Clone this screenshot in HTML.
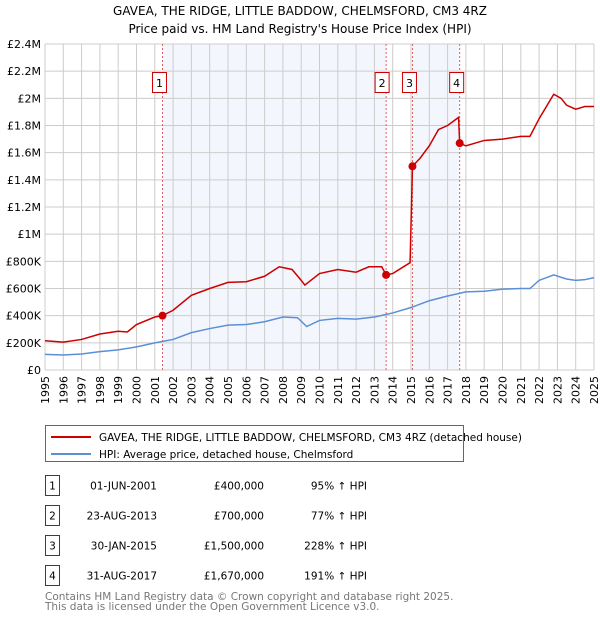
<!DOCTYPE html>
<html><head><meta charset="utf-8">
<style>
body{margin:0;background:#fff;font-family:"Liberation Sans","DejaVu Sans",sans-serif;}
#wrap{position:relative;width:600px;height:620px;overflow:hidden;}
svg text{font-family:"DejaVu Sans","Liberation Sans",sans-serif;}
</style></head>
<body>
<div id="wrap">
<svg id="chart" width="600" height="620">
<text x="300" y="15" text-anchor="middle" font-size="12" fill="#000">GAVEA, THE RIDGE, LITTLE BADDOW, CHELMSFORD, CM3 4RZ</text>
<text x="300" y="33" text-anchor="middle" font-size="12" fill="#000">Price paid vs. HM Land Registry's House Price Index (HPI)</text>
<g id="shade"></g><g id="grid"></g><g id="vlines"></g><g id="lines"></g><g id="marks"></g><g id="axes"></g>
<g>
<rect x="45.5" y="425.5" width="418" height="36" fill="#fff" stroke="#666"/>
<line x1="51" y1="437" x2="91" y2="437" stroke="#cc0000" stroke-width="2"/>
<text x="99" y="441" font-size="10.5">GAVEA, THE RIDGE, LITTLE BADDOW, CHELMSFORD, CM3 4RZ (detached house)</text>
<line x1="51" y1="454" x2="91" y2="454" stroke="#5b8fd6" stroke-width="2"/>
<text x="99" y="458" font-size="10.5">HPI: Average price, detached house, Chelmsford</text>
</g>
<g id="table" font-size="10.5"></g>
<text x="45" y="600" font-size="10.5" fill="#777">Contains HM Land Registry data © Crown copyright and database right 2025.</text>
<text x="45" y="610" font-size="10.5" fill="#777">This data is licensed under the Open Government Licence v3.0.</text>
</svg>
</div>
<script>
const yearTicks=[1995,1996,1997,1998,1999,2000,2001,2002,2003,2004,2005,2006,2007,2008,2009,2010,2011,2012,2013,2014,2015,2016,2017,2018,2019,2020,2021,2022,2023,2024,2025];
const priceTicks=[0,200000,400000,600000,800000,1000000,1200000,1400000,1600000,1800000,2000000,2200000,2400000];
const priceTickLabels=["£0","£200K","£400K","£600K","£800K","£1M","£1.2M","£1.4M","£1.6M","£1.8M","£2M","£2.2M","£2.4M"];
const hpiT=[1995,1996,1997,1998,1999,2000,2001,2002,2003,2004,2005,2006,2007,2008,2008.8,2009.3,2010,2011,2012,2013,2014,2015,2016,2017,2018,2019,2020,2021,2021.5,2022,2022.8,2023.5,2024,2024.5,2025];
const hpiV=[115,110,118,135,148,170,200,225,275,305,330,335,355,390,385,320,365,380,375,390,420,460,510,545,575,580,595,600,600,660,700,670,660,665,680];
const propT=[1995,1996,1997,1998,1999,1999.5,2000,2001,2001.42,2002,2003,2004,2005,2006,2007,2007.8,2008.5,2009.0,2009.2,2010,2011,2012,2012.7,2013.4,2013.64,2014,2014.95,2015.08,2015.5,2016,2016.5,2017,2017.6,2017.66,2018,2019,2020,2021,2021.5,2022,2022.8,2023.2,2023.5,2024,2024.5,2025];
const propV=[215,205,225,265,285,280,335,390,400,440,550,600,645,650,690,760,740,660,625,710,740,720,760,760,700,710,790,1500,1560,1650,1770,1800,1860,1670,1650,1690,1700,1720,1720,1850,2030,2000,1950,1920,1940,1940];
const saleLabels=["1","2","3","4"];
const saleT=[2001.42,2013.64,2015.08,2017.66];
const saleV=[400000,700000,1500000,1670000];
const saleDates=["01-JUN-2001","23-AUG-2013","30-JAN-2015","31-AUG-2017"];
const salePrices=["£400,000","£700,000","£1,500,000","£1,670,000"];
const saleHpi=["95% ↑ HPI","77% ↑ HPI","228% ↑ HPI","191% ↑ HPI"];

const X0=45,X1=594,Y0=370,Y1=44;
const x=t=>X0+(t-1995)/30*(X1-X0);
const y=v=>Y0-v/2400000*(Y0-Y1);
const NS="http://www.w3.org/2000/svg";
function mk(tag,parent,attrs){const e=document.createElementNS(NS,tag);for(const k in attrs)e.setAttribute(k,attrs[k]);document.getElementById(parent).appendChild(e);return e;}

let s=mk('rect','shade',{x:X0,y:Y1,width:X1-X0,height:Y0-Y1,fill:'#fff'});


let b1=mk('rect','shade',{x:x(saleT[0]),y:Y1,width:x(saleT[1])-x(saleT[0]),height:Y0-Y1,fill:'#eef3fc',opacity:0.7});


let b2=mk('rect','shade',{x:x(saleT[2]),y:Y1,width:x(saleT[3])-x(saleT[2]),height:Y0-Y1,fill:'#eef3fc',opacity:0.7});



yearTicks.forEach(t=>{
 let g=mk('line','grid',{x1:x(t),x2:x(t),y1:Y1,y2:Y0,stroke:'#ccc','stroke-width':1});
 
 
 let tx=mk('text','axes',{x:0,y:0,'font-size':11,'text-anchor':'end',transform:`translate(${x(t)+4},${Y0+6}) rotate(-90)`});
 tx.textContent=t;
 
 
});
priceTicks.forEach((v,i)=>{
 let g=mk('line','grid',{x1:X0,x2:X1,y1:y(v),y2:y(v),stroke:'#ccc','stroke-width':1});
 
 
 let tx=mk('text','axes',{x:X0-4,y:y(v)+4,'font-size':11,'text-anchor':'end'});
 tx.textContent=priceTickLabels[i];
 
 
});

saleT.forEach((t,i)=>{
 let l=mk('line','vlines',{x1:x(t),x2:x(t),y1:Y1,y2:Y0,stroke:'#e06060','stroke-width':1,'stroke-dasharray':'2,2'});
 
 
 const bxX=x(t)-(i===1?11:10);
 let bx=mk('rect','marks',{x:bxX,y:72.5,width:14,height:20,fill:'#fff',stroke:'#cc0000'});
 
 
 let tx=mk('text','marks',{x:bxX+7,y:87,'font-size':11,'text-anchor':'middle'});
 tx.textContent=saleLabels[i];
 
 
});

let hp=mk('polyline','lines',{points:hpiT.map((t,i)=>x(t)+','+y(hpiV[i]*1000)).join(' '),fill:'none',stroke:'#5b8fd6','stroke-width':1.5});


let pp=mk('polyline','lines',{points:propT.map((t,i)=>x(t)+','+y(propV[i]*1000)).join(' '),fill:'none',stroke:'#cc0000','stroke-width':1.5});


saleT.forEach((t,i)=>{
 let c=mk('circle','lines',{cx:x(t),cy:y(saleV[i]),r:4,fill:'#cc0000'});
 
 
});

saleLabels.forEach((l,i)=>{
 const ry=475.5+i*30;
 let bx=mk('rect','table',{x:45.5,y:ry,width:14,height:20,fill:'#fff',stroke:'#cc0000'});
 
 
 const ty=ry+14;
 [[52.5,l,'middle'],[157,saleDates[i],'end'],[264,salePrices[i],'end'],[367,saleHpi[i],'end']].forEach(([xx,txt,a],j)=>{
  let tx=mk('text','table',{x:xx,y:ty,'text-anchor':a,'font-size':10.5});
  tx.textContent=txt;
  
  
 });
});
</script>
</body></html>
